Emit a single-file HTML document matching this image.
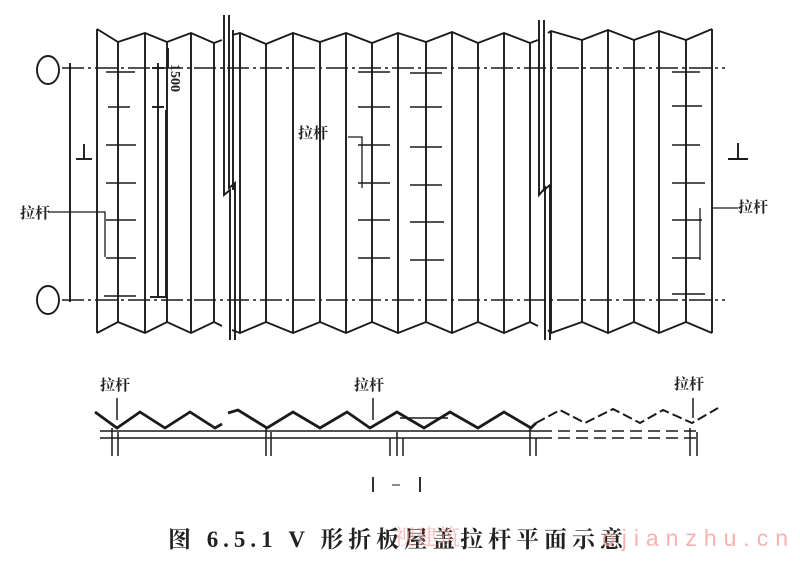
<!DOCTYPE html>
<html><head><meta charset="utf-8"><style>
html,body{margin:0;padding:0;background:#fff;}
svg{display:block;}
text{font-family:"Liberation Serif","Noto Serif CJK SC",serif;fill:#222;}
</style></head><body>
<svg width="800" height="562" viewBox="0 0 800 562" xmlns="http://www.w3.org/2000/svg">
<g stroke="#1a1a1a" fill="none" stroke-width="1.9">
<polyline points="97,29 118,42 145,33 167,42 191,33 214,43 222,40"/>
<polyline points="232,35 240,33 266,44 293,33 320,42 346,33 372,43 398,33 426,42 452,32 478,43 504,33 530,43 538,40"/>
<polyline points="548,33 551,31 582,40 608,30 634,40 659,31 686,40 712,29"/>
<polyline points="97,333 118,322 145,333 167,322 191,333 214,322 222,326"/>
<polyline points="232,330 240,333 266,322 293,333 320,322 346,333 372,322 398,333 426,322 452,333 478,322 504,333 530,322 538,326"/>
<polyline points="548,330 551,333 582,322 608,333 634,322 659,333 686,322 712,333"/>
<g>
<line x1="97" y1="29" x2="97" y2="333"/><line x1="118" y1="42" x2="118" y2="322"/>
<line x1="145" y1="33" x2="145" y2="333"/><line x1="167" y1="42" x2="167" y2="322"/>
<line x1="191" y1="33" x2="191" y2="333"/><line x1="214" y1="43" x2="214" y2="322"/>
<line x1="240" y1="33" x2="240" y2="333"/><line x1="266" y1="44" x2="266" y2="322"/>
<line x1="293" y1="33" x2="293" y2="333"/><line x1="320" y1="42" x2="320" y2="322"/>
<line x1="346" y1="33" x2="346" y2="333"/><line x1="372" y1="43" x2="372" y2="322"/>
<line x1="398" y1="33" x2="398" y2="333"/><line x1="426" y1="42" x2="426" y2="322"/>
<line x1="452" y1="32" x2="452" y2="333"/><line x1="478" y1="43" x2="478" y2="322"/>
<line x1="504" y1="33" x2="504" y2="333"/><line x1="530" y1="43" x2="530" y2="322"/>
<line x1="551" y1="31" x2="551" y2="333"/><line x1="582" y1="40" x2="582" y2="322"/>
<line x1="608" y1="30" x2="608" y2="333"/><line x1="634" y1="40" x2="634" y2="322"/>
<line x1="659" y1="31" x2="659" y2="333"/><line x1="686" y1="40" x2="686" y2="322"/>
<line x1="712" y1="29" x2="712" y2="333"/>
</g>
<path d="M224 15 V195 L230 190 V340 M229 15 V188 L235 183 V340 M233 30 V190"/>
<path d="M539 20 V195 L545 188 V340 M544 20 V190 L550 185 V340"/>
<g stroke-width="1.4" stroke-dasharray="22,4,3,4">
<line x1="62" y1="68" x2="725" y2="68"/>
<line x1="62" y1="300" x2="725" y2="300"/>
</g>
<ellipse cx="48" cy="70" rx="11" ry="14"/>
<ellipse cx="48" cy="300" rx="11" ry="14"/>
<line x1="70" y1="63" x2="70" y2="302"/>
<line x1="76" y1="159" x2="92" y2="159"/><line x1="84" y1="144" x2="84" y2="159"/>
<line x1="728" y1="159" x2="748" y2="159"/><line x1="738" y1="143" x2="738" y2="159"/>
<line x1="158" y1="63" x2="158" y2="298"/>
<line x1="152" y1="68" x2="164" y2="68"/><line x1="152" y1="107" x2="164" y2="107"/><line x1="150" y1="297" x2="166" y2="297"/>
<line x1="168" y1="48" x2="168" y2="68"/><line x1="166" y1="110" x2="166" y2="298"/>
<g stroke-width="1.6">
<line x1="106" y1="72" x2="135" y2="72"/><line x1="108" y1="107" x2="130" y2="107"/>
<line x1="106" y1="145" x2="136" y2="145"/><line x1="106" y1="183" x2="136" y2="183"/>
<line x1="106" y1="220" x2="136" y2="220"/><line x1="106" y1="258" x2="136" y2="258"/>
<line x1="104" y1="296" x2="136" y2="296"/>
<line x1="358" y1="72" x2="390" y2="72"/><line x1="358" y1="107" x2="390" y2="107"/>
<line x1="358" y1="145" x2="390" y2="145"/><line x1="358" y1="183" x2="390" y2="183"/>
<line x1="358" y1="220" x2="390" y2="220"/><line x1="358" y1="258" x2="390" y2="258"/>
<line x1="410" y1="73" x2="442" y2="73"/><line x1="410" y1="107" x2="442" y2="107"/>
<line x1="410" y1="147" x2="442" y2="147"/><line x1="410" y1="185" x2="442" y2="185"/>
<line x1="410" y1="222" x2="444" y2="222"/><line x1="410" y1="260" x2="444" y2="260"/>
<line x1="672" y1="72" x2="700" y2="72"/><line x1="672" y1="106" x2="702" y2="106"/>
<line x1="672" y1="145" x2="700" y2="145"/><line x1="672" y1="183" x2="705" y2="183"/>
<line x1="672" y1="220" x2="702" y2="220"/><line x1="672" y1="258" x2="700" y2="258"/>
<line x1="672" y1="294" x2="705" y2="294"/>
</g>
<path d="M48 212 H105 V257" stroke-width="1.3"/>
<path d="M348 137 H362 V188" stroke-width="1.3"/>
<path d="M712 208 H738 M700 208 V260" stroke-width="1.3"/>
<g stroke-width="2.8">
<polyline points="95,412 117,428 140,412 165,428 190,412 215,428 222,424"/>
<polyline points="228,413 238,410 267,428 293,412 320,428 347,412 370,428 397,412 424,428 450,412 478,428 504,412 531,428 536,423"/>
</g>
<g stroke-width="2" stroke-dasharray="10,4">
<polyline points="536,423 560,410 585,423 613,409 640,423 663,410 692,423 718,408"/>
</g>
<g stroke-width="1.5">
<line x1="100" y1="431" x2="540" y2="431"/><line x1="100" y1="438" x2="540" y2="438"/>
<line x1="540" y1="431" x2="700" y2="431" stroke-dasharray="12,6"/><line x1="540" y1="438" x2="700" y2="438" stroke-dasharray="12,6"/>
<path d="M112 428 V456 M118 432 V456 M266 428 V456 M271 432 V456 M390 438 V456 M397 432 V456 M403 438 V456 M530 428 V456 M536 438 V456 M690 428 V456 M697 432 V456"/>
<line x1="117" y1="398" x2="117" y2="420"/><line x1="373" y1="398" x2="373" y2="420"/><line x1="693" y1="398" x2="693" y2="418"/>
<line x1="400" y1="418" x2="448" y2="418"/>
</g>
<line x1="373" y1="477" x2="373" y2="492" stroke-width="1.8"/>
<line x1="392" y1="485" x2="400" y2="485" stroke-width="1"/>
<line x1="420" y1="477" x2="420" y2="492" stroke-width="1.8"/>
</g>
<g font-weight="bold">
<text x="20" y="218" font-size="15">拉杆</text>
<text x="298" y="138" font-size="15">拉杆</text>
<text x="738" y="212" font-size="15">拉杆</text>
<text x="100" y="390" font-size="15">拉杆</text>
<text x="354" y="390" font-size="15">拉杆</text>
<text x="674" y="389" font-size="15">拉杆</text>
<text transform="translate(171,64) rotate(90)" font-size="14">1500</text>
<text x="168" y="547" font-size="23" textLength="455" lengthAdjust="spacing">图 6.5.1 V 形折板屋盖拉杆平面示意</text>
</g>
<text x="394" y="545" font-size="22" style="fill:#f4a0a0;opacity:0.7">视建筑</text>
<text x="602" y="546" font-size="23" style="font-family:'Liberation Sans',sans-serif;fill:#f4a0a0;opacity:0.8" textLength="186" lengthAdjust="spacing">ojianzhu.cn</text>
</svg>
</body></html>
